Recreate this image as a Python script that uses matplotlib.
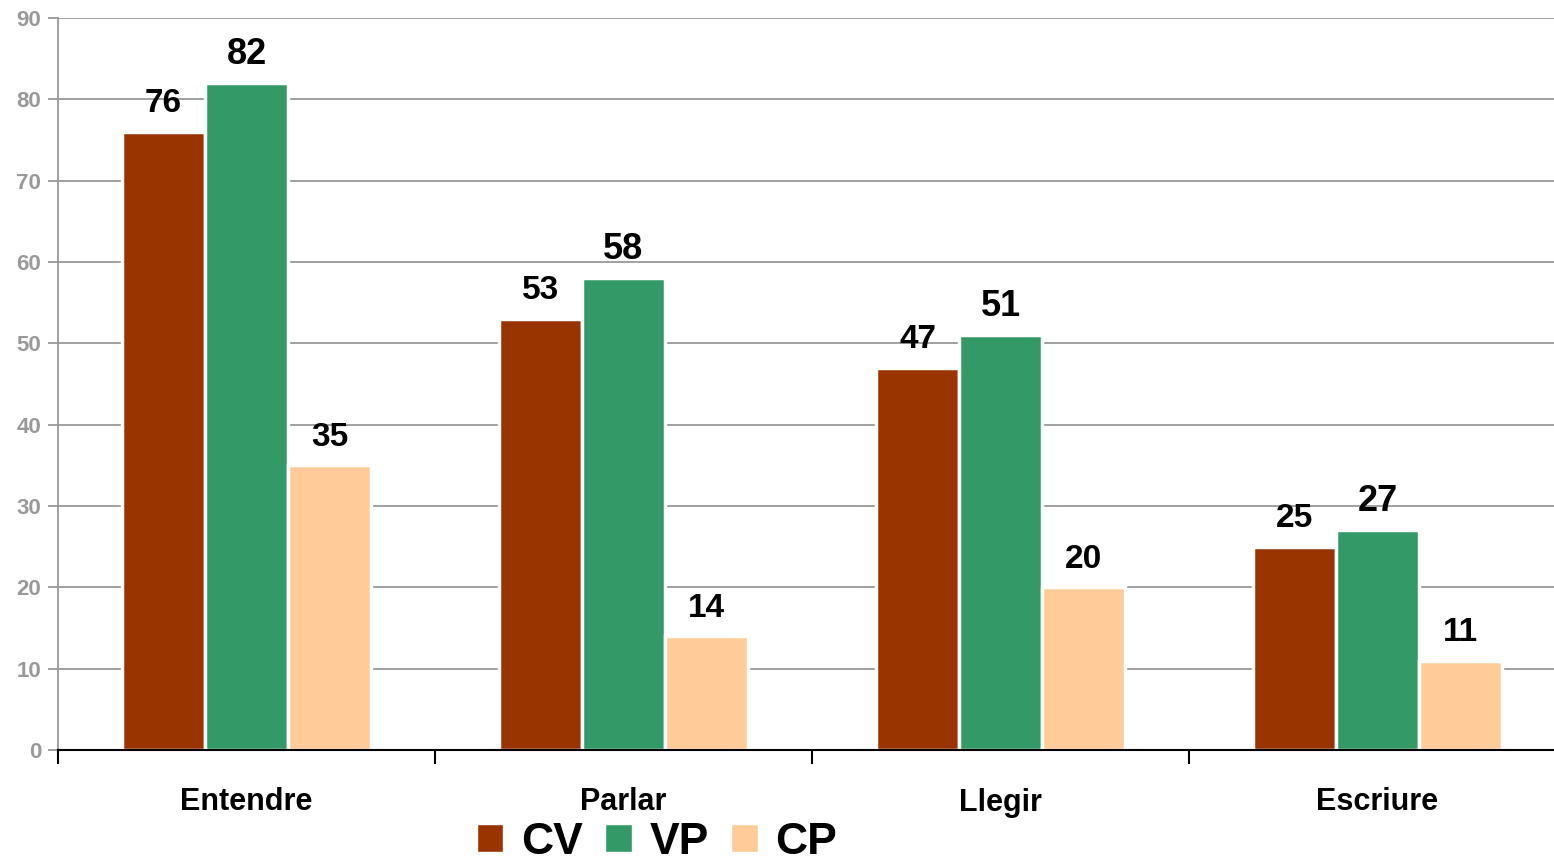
import numpy as np
import matplotlib
matplotlib.use('Agg')
import matplotlib.pyplot as plt
from matplotlib.patches import Patch

plt.rcParams['font.family'] = ['Liberation Sans', 'DejaVu Sans']
plt.rcParams['font.weight'] = 'bold'

# data
categories = ['Entendre', 'Parlar', 'Llegir', 'Escriure']
series = ['CV', 'VP', 'CP']
cv = [76, 53, 47, 25]
vp = [82, 58, 51, 27]
cp = [35, 14, 20, 11]
colors = ['#993300', '#339966', '#FFCC99']
label_sizes = [24, 26, 24]

fig = plt.figure(figsize=(15.54, 8.66), dpi=100)
ax = fig.add_axes([58/1554, 116/866, 1508/1554, 732/866])

x = np.arange(len(categories))
w = 0.22
for i, (vals, col) in enumerate(zip([cv, vp, cp], colors)):
    pos = x + (i - 1) * w
    bars = ax.bar(pos, vals, width=w, color=col, edgecolor='white', linewidth=2.5, zorder=3)
    for b, v in zip(bars, vals):
        ax.annotate(str(v), (b.get_x() + b.get_width() / 2, v), xytext=(0, 14),
                    textcoords='offset points', ha='center', va='baseline',
                    fontsize=label_sizes[i], fontweight='bold', color='black', zorder=4)

ax.set_xlim(-0.5, 3.5)
ax.set_ylim(0, 90)
ax.set_yticks(range(0, 91, 10))
ax.yaxis.grid(True, color='#999999', linewidth=1.3, zorder=0)
ax.tick_params(axis='y', colors='#999999', labelsize=16, length=7, width=1.3, pad=5)
for t in ax.get_yticklabels():
    t.set_fontweight('bold')

# category boundaries as ticks, names between
ax.set_xticks(np.arange(-0.5, 3.5, 1))
ax.set_xticklabels([])
ax.set_xticks(x, minor=True)
ax.set_xticklabels(categories, minor=True, fontsize=22, fontweight='bold')
ax.tick_params(axis='x', which='major', direction='out', length=10, width=1.5, color='black')
ax.tick_params(axis='x', which='minor', length=0, pad=27)

for s in ['top', 'right']:
    ax.spines[s].set_visible(False)
ax.spines['left'].set_color('#999999')
ax.spines['left'].set_linewidth(1.3)
ax.spines['bottom'].set_color('black')
ax.spines['bottom'].set_linewidth(1.5)
ax.spines['bottom'].set_zorder(5)

handles = [Patch(facecolor=c, edgecolor='white') for c in colors]
fig.legend(handles, series, loc='center', bbox_to_anchor=(657/1554, 24/866), ncol=3,
           frameon=False, prop={'size': 32, 'weight': 'bold'},
           handlelength=0.6, handleheight=0.6, handletextpad=0.4, columnspacing=0.5,
           borderpad=0.1)

fig.savefig('out.png', dpi=100)
